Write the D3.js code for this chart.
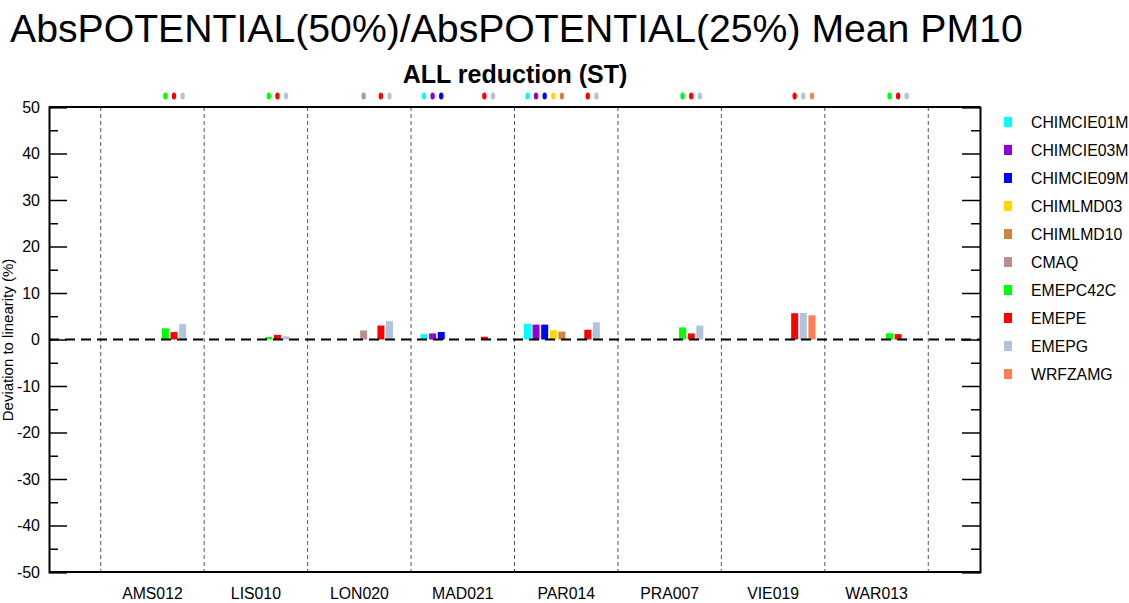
<!DOCTYPE html>
<html><head><meta charset="utf-8">
<script src="https://cdn.jsdelivr.net/npm/d3@7/dist/d3.min.js"></script>
<style>body{margin:0;background:#fff}svg{display:block}text{font-family:"Liberation Sans",Arial,sans-serif}</style>
</head><body><svg id="c" width="1129" height="603"></svg>
<script>
const stations = ["AMS012","LIS010","LON020","MAD021","PAR014","PRA007","VIE019","WAR013"];
const models = ["CHIMCIE01M","CHIMCIE03M","CHIMCIE09M","CHIMLMD03","CHIMLMD10","CMAQ","EMEPC42C","EMEPE","EMEPG","WRFZAMG"];
const modelColors = ["#00ffff","#9400d3","#0000ff","#ffd700","#cd853f","#bc8f8f","#00ff00","#ff0000","#b0c4de","#ff7f50"];
// values per station, in model order (null = missing)
const AMS012 = [null,null,null,null,null,null,2.4,1.6,3.3,null];
const LIS010 = [null,null,null,null,null,null,0.55,1.0,0.7,null];
const LON020 = [null,null,null,null,null,1.95,null,3.0,3.95,null];
const MAD021 = [1.15,1.3,1.6,null,null,null,null,0.6,0.05,null];
const PAR014 = [3.35,3.2,3.2,2.0,1.7,null,null,2.1,3.7,null];
const PRA007 = [null,null,null,null,null,null,2.6,1.3,3.0,null];
const VIE019 = [null,null,null,null,null,null,null,5.65,5.7,5.2];
const WAR013 = [null,null,null,null,null,null,1.35,1.15,0.2,null];
const values = [AMS012,LIS010,LON020,MAD021,PAR014,PRA007,VIE019,WAR013];
const yTicks = [-50,-40,-30,-20,-10,0,10,20,30,40,50];
const yMinor = [-45,-35,-25,-15,-5,5,15,25,35,45];

const svg = d3.select("#c");
const L=49,R=980,T=107,B=572;
const x = d3.scaleLinear().domain([0,9]).range([L,R]);
const y = d3.scaleLinear().domain([-50,50]).range([B,T]);
const gw = x(1)-x(0);
const slot = gw/12;

// title
svg.append("text").attr("x",10).attr("y",42).attr("font-size",39.2).text("AbsPOTENTIAL(50%)/AbsPOTENTIAL(25%) Mean PM10");
svg.append("text").attr("x",515).attr("y",83).attr("font-size",25).attr("font-weight","bold").attr("text-anchor","middle").text("ALL reduction (ST)");
svg.append("text").attr("transform","translate(13,340) rotate(-90)").attr("font-size",15).attr("text-anchor","middle").text("Deviation to linearity (%)");

// separators
svg.append("g").selectAll("line").data(d3.range(0.5,9,1)).join("line")
  .attr("x1",d=>x(d)).attr("x2",d=>x(d)).attr("y1",T).attr("y2",B)
  .attr("stroke","#555").attr("stroke-width",1).attr("stroke-dasharray","4,3");

// bars
values.forEach((vals,si)=>{
  const g0 = x(si+0.5);
  vals.forEach((v,mi)=>{
    if(v===null) return;
    const cx = g0 + (mi+1.5)*slot;
    svg.append("rect").attr("x",cx-3.5).attr("width",7)
      .attr("y",y(Math.max(0,v))).attr("height",Math.abs(y(v)-y(0)))
      .attr("fill",modelColors[mi]);
    svg.append("ellipse").attr("cx",cx).attr("cy",96).attr("rx",2.2).attr("ry",3.5).attr("fill",modelColors[mi]);
  });
});

// zero line
svg.append("line").attr("x1",L).attr("x2",R).attr("y1",y(0)).attr("y2",y(0))
  .attr("stroke","#000").attr("stroke-width",2).attr("stroke-dasharray","10,6");

// frame
svg.append("line").attr("x1",L).attr("x2",R).attr("y1",T).attr("y2",T).attr("stroke","#000").attr("stroke-width",2);
svg.append("line").attr("x1",L).attr("x2",R).attr("y1",B).attr("y2",B).attr("stroke","#000").attr("stroke-width",2);
// left axis
const la = svg.append("g").attr("transform",`translate(${L},0)`).call(d3.axisRight(y).tickValues(yTicks).tickSize(18).tickFormat(""));
la.select(".domain").attr("stroke-width",2);
la.selectAll(".tick line").attr("stroke-width",1.5);
svg.append("g").attr("transform",`translate(${L},0)`).call(d3.axisRight(y).tickValues(yMinor).tickSize(9).tickFormat(""))
  .call(g=>{g.select(".domain").remove();g.selectAll(".tick line").attr("stroke-width",1.5);});
svg.append("g").selectAll("text").data(yTicks).join("text")
  .attr("x",40).attr("y",d=>y(d)).attr("dy","0.36em").attr("text-anchor","end").attr("font-size",16).text(d=>d);
// right axis
const ra = svg.append("g").attr("transform",`translate(${R},0)`).call(d3.axisLeft(y).tickValues(yTicks).tickSize(18).tickFormat(""));
ra.select(".domain").attr("stroke-width",2);
ra.selectAll(".tick line").attr("stroke-width",1.5);
svg.append("g").attr("transform",`translate(${R},0)`).call(d3.axisLeft(y).tickValues(yMinor).tickSize(9).tickFormat(""))
  .call(g=>{g.select(".domain").remove();g.selectAll(".tick line").attr("stroke-width",1.5);});

// x labels
svg.append("g").selectAll("text").data(stations).join("text")
  .attr("x",(d,i)=>x(i+1)).attr("y",599).attr("text-anchor","middle").attr("font-size",15.8).text(d=>d);

// legend
const lg = svg.append("g").selectAll("g").data(models).join("g")
  .attr("transform",(d,i)=>`translate(1004,${122+i*28})`);
lg.append("rect").attr("x",0).attr("y",-5).attr("width",8).attr("height",10).attr("fill",(d,i)=>modelColors[i]);
lg.append("text").attr("x",27).attr("y",0).attr("dy","0.36em").attr("font-size",15.8).text(d=>d);
</script></body></html>
